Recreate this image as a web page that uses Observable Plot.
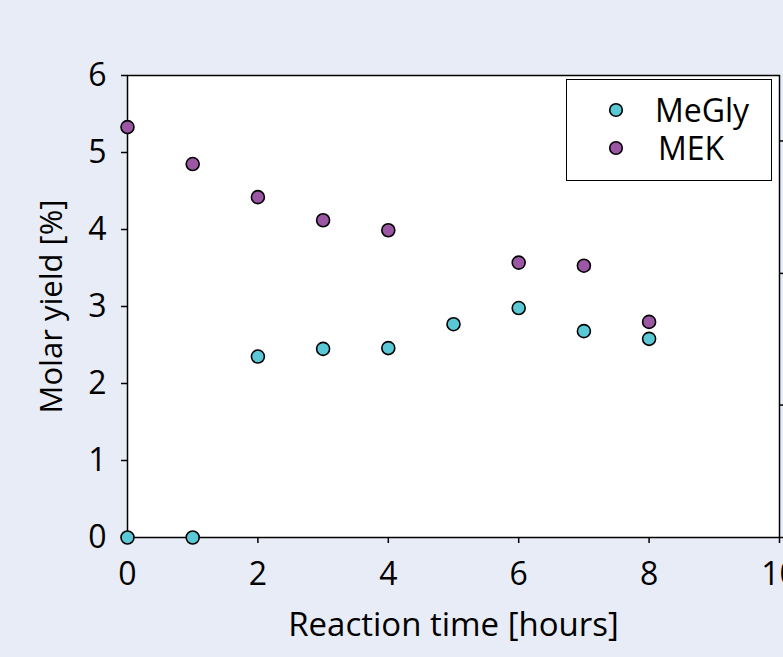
<!DOCTYPE html>
<html>
<head>
<meta charset="utf-8">
<script src="https://cdn.jsdelivr.net/npm/d3@7"></script>
<script src="https://cdn.jsdelivr.net/npm/@observablehq/plot@0.6"></script>
<style>
  html, body { margin: 0; padding: 0; background: #e8ecf6; overflow: hidden; }
  #wrap { position: relative; width: 783px; height: 657px; }
  #legend { position: absolute; left: 566px; top: 79px; width: 204px; height: 100px;
    background: white; border: 1.5px solid black; font-family: "Open Sans", sans-serif; font-size: 32px; }
  .item { position: absolute; left: 0; display: flex; align-items: center; height: 36px; }
  .item svg { margin-left: 41px; }
  .item span { position: absolute; white-space: nowrap; line-height: 36px; }
</style>
</head>
<body>
<div id="wrap"></div>
<script>
// Data
const timesMeGly = [0, 1, 2, 3, 4, 5, 6, 7, 8];
const valuesMeGly = [0, 0, 2.35, 2.45, 2.46, 2.77, 2.98, 2.68, 2.58];
const timesMEK = [0, 1, 2, 3, 4, 6, 7, 8];
const valuesMEK = [5.33, 4.85, 4.42, 4.12, 3.99, 3.57, 3.53, 2.80];
const seriesNames = ["MeGly", "MEK"];
const seriesColors = ["#5bc8d6", "#9b56a4"];
const xTicks = [0, 2, 4, 6, 8, 10];
const yTicks = [0, 1, 2, 3, 4, 5, 6];
const rightTicks = [0, 1.72, 3.43, 5.15]; // secondary axis ticks (labels cut off)
const xLabel = "Reaction time [hours]";
const yLabel = "Molar yield [%]";

const rows = [
  ...timesMeGly.map((t, i) => ({t, v: valuesMeGly[i], s: seriesNames[0]})),
  ...timesMEK.map((t, i) => ({t, v: valuesMEK[i], s: seriesNames[1]}))
];

const font = "'Open Sans', sans-serif";
const chart = Plot.plot({
  width: 783, height: 657,
  marginLeft: 127, marginRight: 4, marginTop: 75, marginBottom: 120,
  x: {domain: [0, 10]},
  y: {domain: [0, 6]},
  color: {domain: seriesNames, range: seriesColors},
  style: {background: "transparent", fontFamily: font, fontSize: "32px", color: "black", overflow: "hidden"},
  marks: [
    Plot.frame({fill: "white", stroke: "black", strokeWidth: 1.5}),
    Plot.axisX({ticks: xTicks, tickSize: 6, tickPadding: 19, tickFormat: d3.format("d"), fontSize: 32, label: null, strokeWidth: 1.5}),
    Plot.axisY({ticks: yTicks, tickSize: 6, tickPadding: 15, tickFormat: d3.format("d"), fontSize: 32, label: null, strokeWidth: 1.5}),
    Plot.axisY({anchor: "right", ticks: rightTicks, tickSize: 6, tickFormat: () => "", label: null, strokeWidth: 1.5}),
    Plot.text([xLabel], {frameAnchor: "bottom", dy: 88, fontSize: 33, lineAnchor: "middle"}),
    Plot.text([yLabel], {frameAnchor: "left", dx: -75, rotate: -90, fontSize: 31, lineAnchor: "middle", textAnchor: "middle"}),
    Plot.dot(rows, {x: "t", y: "v", fill: "s", r: 6.5, stroke: "black", strokeWidth: 1.6})
  ]
});
const wrap = document.getElementById("wrap");
wrap.appendChild(chart);

// Legend
const legend = document.createElement("div");
legend.id = "legend";
const tops = [12, 50];
const textLeft = [88, 91];
seriesNames.forEach((name, i) => {
  const item = document.createElement("div");
  item.className = "item";
  item.style.top = tops[i] + "px";
  item.innerHTML = `<svg width="16" height="16"><circle cx="8" cy="8" r="6.3" fill="${seriesColors[i]}" stroke="black" stroke-width="1.6"/></svg>`;
  const span = document.createElement("span");
  span.textContent = name;
  span.style.left = textLeft[i] + "px";
  item.appendChild(span);
  legend.appendChild(item);
});
wrap.appendChild(legend);
</script>
</body>
</html>
